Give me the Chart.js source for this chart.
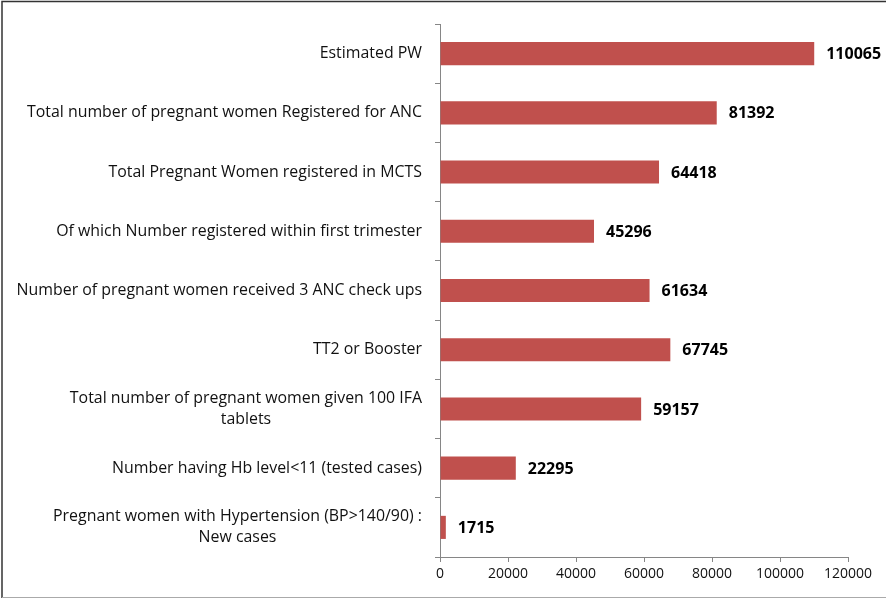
<!DOCTYPE html>
<html>
<head>
<meta charset="utf-8">
<script src="https://cdn.jsdelivr.net/npm/chart.js@4.4.0/dist/chart.umd.min.js"></script>
<style>
  html, body { margin: 0; padding: 0; background: #fff; }
  #wrap { width: 886px; height: 600px; position: relative; }
</style>
</head>
<body>
<div id="wrap"><canvas id="myChart" width="886" height="600"></canvas></div>
<script>
var labels = [
    ['Estimated PW'],
    ['Total number of pregnant women Registered for ANC'],
    ['Total Pregnant Women registered in MCTS'],
    ['Of which Number registered within first trimester'],
    ['Number of pregnant women received 3 ANC check ups'],
    ['TT2 or Booster'],
    ['Total number of pregnant women given 100 IFA', 'tablets'],
    ['Number having Hb level<11 (tested cases)'],
    ['Pregnant women with Hypertension (BP>140/90) :', 'New cases']
];
var values = [110065, 81392, 64418, 45296, 61634, 67745, 59157, 22295, 1715];
var xTicks = [0, 20000, 40000, 60000, 80000, 100000, 120000];

var FONT = '"Open Sans", "Liberation Sans", sans-serif';

// category labels drawn by hand so two-line labels can be centred like the original
var catLabels = {
    id: 'catLabels',
    afterDraw: function (chart) {
        var ctx = chart.ctx;
        var y = chart.scales.y;
        var right = y.right - 18;
        ctx.save();
        ctx.font = '15.9px ' + FONT;
        ctx.fillStyle = '#111';
        ctx.textBaseline = 'middle';
        labels.forEach(function (lines, i) {
            var cy = y.getPixelForTick(i);
            var w = 0;
            lines.forEach(function (l) { w = Math.max(w, ctx.measureText(l).width); });
            var cx = right - w / 2;
            var lh = 21;
            var top = cy - (lines.length - 1) * lh / 2;
            ctx.textAlign = 'center';
            lines.forEach(function (l, k) {
                ctx.fillText(l, cx, top + k * lh);
            });
        });
        ctx.restore();
    }
};

var valueLabels = {
    id: 'valueLabels',
    afterDatasetsDraw: function (chart) {
        var ctx = chart.ctx;
        var meta = chart.getDatasetMeta(0);
        ctx.save();
        ctx.font = 'bold 16px ' + FONT;
        ctx.fillStyle = '#000';
        ctx.textAlign = 'left';
        ctx.textBaseline = 'middle';
        meta.data.forEach(function (bar, i) {
            ctx.fillText(values[i], bar.x + 12, bar.y + 1);
        });
        ctx.restore();
    }
};

var frame = {
    id: 'frame',
    beforeDraw: function (chart) {
        var ctx = chart.ctx;
        ctx.save();
        ctx.fillStyle = '#fff';
        ctx.fillRect(0, 0, chart.width, chart.height);
        ctx.strokeStyle = '#333';
        ctx.lineWidth = 1.5;
        ctx.beginPath();
        ctx.moveTo(2, 598);
        ctx.lineTo(2, 1.5);
        ctx.lineTo(886, 1.5);
        ctx.stroke();
        ctx.strokeStyle = '#aaa';
        ctx.lineWidth = 1;
        ctx.beginPath();
        ctx.moveTo(2, 597.5);
        ctx.lineTo(886, 597.5);
        ctx.stroke();
        ctx.restore();
    }
};

var myChart = new Chart(
    document.getElementById('myChart'), {
    type: 'bar',
    data: {
        labels: labels,
        datasets: [{
            data: values,
            backgroundColor: '#C0504D',
            borderWidth: 0,
            barPercentage: 0.39,
            categoryPercentage: 1.0
        }]
    },
    options: {
        indexAxis: 'y',
        responsive: false,
        animation: false,
        layout: { padding: { top: 24, right: 38, left: 0, bottom: 0 } },
        plugins: {
            legend: { display: false },
            tooltip: { enabled: false }
        },
        scales: {
            x: {
                min: 0,
                max: 120000,
                afterBuildTicks: function (scale) {
                    scale.ticks = xTicks.map(function (v) { return { value: v }; });
                },
                ticks: {
                    color: '#111',
                    font: { family: FONT, size: 14 },
                    padding: 4,
                    maxRotation: 0,
                    callback: function (v) { return String(v); }
                },
                grid: {
                    drawOnChartArea: false,
                    drawTicks: true,
                    tickLength: 5,
                    color: '#868686'
                },
                border: { color: '#868686' },
                afterFit: function (scale) { scale.height = 43; }
            },
            y: {
                ticks: { display: false },
                grid: {
                    drawOnChartArea: false,
                    drawTicks: true,
                    tickLength: 5,
                    offset: true,
                    color: '#868686'
                },
                border: { color: '#868686' },
                afterFit: function (scale) { scale.width = 440; }
            }
        }
    },
    plugins: [frame, catLabels, valueLabels]
});
</script>
</body>
</html>
